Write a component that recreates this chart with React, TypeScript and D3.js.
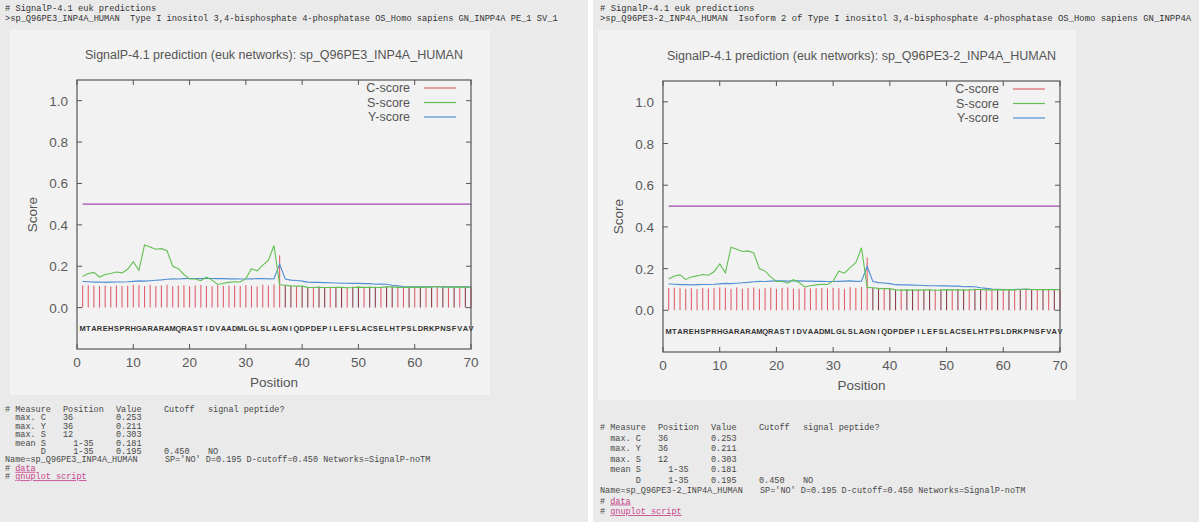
import React from 'react';
import * as d3 from 'd3';

// residues 1..70 (shared by both isoforms)
const sequence = 'MTAREHSPRHGARARAMQRASTIDVAADMLGLSLAGNIQDPDEPILEFSLACSELHTPSLDRKPNSFVAV'.split('');

const cScore = [
  0.107, 0.108, 0.106, 0.104, 0.106, 0.102, 0.107, 0.105, 0.106, 0.110,
  0.108, 0.104, 0.110, 0.104, 0.107, 0.110, 0.103, 0.106, 0.108, 0.103,
  0.107, 0.109, 0.105, 0.103, 0.108, 0.105, 0.106, 0.107, 0.105, 0.108,
  0.106, 0.103, 0.111, 0.107, 0.112, 0.253, 0.108, 0.105, 0.103, 0.104,
  0.100, 0.101, 0.102, 0.100, 0.101, 0.099, 0.100, 0.100, 0.101, 0.102,
  0.100, 0.102, 0.101, 0.100, 0.103, 0.100, 0.099, 0.098, 0.099, 0.098,
  0.099, 0.098, 0.099, 0.100, 0.099, 0.098, 0.099, 0.098, 0.099, 0.098,
];

const sScore = [
  0.150, 0.165, 0.170, 0.148, 0.160, 0.165, 0.172, 0.168, 0.185, 0.222,
  0.180, 0.303, 0.293, 0.282, 0.285, 0.275, 0.200, 0.188, 0.160, 0.138,
  0.138, 0.130, 0.147, 0.133, 0.112, 0.118, 0.122, 0.125, 0.124, 0.140,
  0.188, 0.178, 0.205, 0.228, 0.300, 0.110, 0.108, 0.105, 0.104, 0.104,
  0.098, 0.097, 0.098, 0.097, 0.097, 0.098, 0.098, 0.096, 0.097, 0.099,
  0.098, 0.098, 0.097, 0.098, 0.100, 0.100, 0.098, 0.098, 0.099, 0.098,
  0.099, 0.098, 0.100, 0.102, 0.100, 0.099, 0.099, 0.100, 0.099, 0.099,
];

const yScore = [
  0.126, 0.125, 0.123, 0.124, 0.122, 0.123, 0.124, 0.124, 0.125, 0.127,
  0.129, 0.128, 0.130, 0.132, 0.134, 0.137, 0.139, 0.138, 0.140, 0.141,
  0.141, 0.140, 0.142, 0.141, 0.140, 0.140, 0.139, 0.139, 0.138, 0.138,
  0.139, 0.140, 0.141, 0.139, 0.140, 0.211, 0.138, 0.133, 0.131, 0.128,
  0.123, 0.122, 0.122, 0.121, 0.120, 0.119, 0.118, 0.118, 0.117, 0.117,
  0.116, 0.116, 0.113, 0.114, 0.113, 0.108, 0.105, 0.102, 0.101, 0.100,
  0.100, 0.100, 0.101, 0.101, 0.100, 0.100, 0.100, 0.100, 0.100, 0.100,
];

const cutoffLine = 0.5;
const xTicks = [0, 10, 20, 30, 40, 50, 60, 70];
const yTicks = [0, 0.2, 0.4, 0.6, 0.8, 1.0];
const legendItems = [
  { label: 'C-score', color: '#e0616e' },
  { label: 'S-score', color: '#62c052' },
  { label: 'Y-score', color: '#4f8fd3' },
];

const headerLine1 = '# SignalP-4.1 euk predictions';
const leftHeader = '>sp_Q96PE3_INP4A_HUMAN  Type I inositol 3,4-bisphosphate 4-phosphatase OS_Homo sapiens GN_INPP4A PE_1 SV_1';
const rightHeader = '>sp_Q96PE3-2_INP4A_HUMAN  Isoform 2 of Type I inositol 3,4-bisphosphate 4-phosphatase OS_Homo sapiens GN_INPP4A';
const leftTitle = 'SignalP-4.1 prediction (euk networks): sp_Q96PE3_INP4A_HUMAN';
const rightTitle = 'SignalP-4.1 prediction (euk networks): sp_Q96PE3-2_INP4A_HUMAN';

// summary table rows: [measure, position, value, cutoff, answer]
const tableHead = ['# Measure', 'Position', 'Value', 'Cutoff', 'signal peptide?'];
const tableRows = [
  ['  max. C', '36', '0.253', '', ''],
  ['  max. Y', '36', '0.211', '', ''],
  ['  max. S', '12', '0.303', '', ''],
  ['  mean S', '  1-35', '0.181', '', ''],
  ['       D', '  1-35', '0.195', '0.450', 'NO'],
];
const summaryTail = "SP='NO' D=0.195 D-cutoff=0.450 Networks=SignalP-noTM";

const mono = '"Liberation Mono", "DejaVu Sans Mono", monospace';
const sans = '"Liberation Sans", Arial, sans-serif';
const keep = (s: string) => s.replace(/ /g, '\u00a0');

type PanelProps = {
  left: number; right: number; top: number; bottom: number;
  title: string; header: string; headerSize: number; ox: number;
  boxX: number; boxY: number; boxW: number; boxH: number;
  tableY: number; lineH: number; name: string;
};

const Panel = (p: PanelProps) => {
  const x = d3.scaleLinear().domain([0, 70]).range([p.left, p.right]);
  const y = d3.scaleLinear().domain([-0.2, 1.1]).range([p.bottom, p.top]);
  const line = (vals: number[]) =>
    d3.line<number>().x((_, i) => x(i + 1)).y((d) => y(d))(vals) || '';
  const cols = [0, 58, 111, 159, 203];
  const cx = (i: number) => p.ox + cols[i];
  return (
    <g>
      <text x={p.ox} y={10.5} fontFamily={mono} fontSize={p.headerSize} fill="#333">{keep(headerLine1)}</text>
      <text x={p.ox} y={20.5} fontFamily={mono} fontSize={p.headerSize} fill="#333">{keep(p.header)}</text>
      <rect x={p.boxX} y={p.boxY} width={p.boxW} height={p.boxH} fill="#f2f2f2" />
      <text x={(p.left + p.right) / 2} y={p.top - 21} textAnchor="middle" fontFamily={sans} fontSize={12.5} fill="#555">{p.title}</text>
      {/* cutoff line */}
      <line x1={x(1)} x2={x(70)} y1={y(cutoffLine)} y2={y(cutoffLine)} stroke="#a24ab8" strokeWidth={1.1} />
      {/* C-score impulses */}
      {cScore.map((v, i) => {
        const pos = i + 1;
        const dark = (pos > 36 && pos < 58 && pos % 3 !== 0) || (pos >= 58 && pos % 2 === 1);
        return (
          <line key={i} x1={x(pos)} x2={x(pos)} y1={y(0)} y2={y(v)}
            stroke={dark ? '#8a3f4a' : '#e0616e'} strokeWidth={1.1} />
        );
      })}
      <path d={line(yScore)} fill="none" stroke={legendItems[2].color} strokeWidth={1.1} />
      <path d={line(sScore)} fill="none" stroke={legendItems[1].color} strokeWidth={1.1} />
      {/* sequence */}
      {sequence.map((aa, i) => (
        <text key={i} x={x(i + 1)} y={y(-0.1) + 3} textAnchor="middle" fontFamily={sans}
          fontSize={7.5} fontWeight="bold" fill="#333">{aa}</text>
      ))}
      {/* frame */}
      <rect x={p.left} y={p.top} width={p.right - p.left} height={p.bottom - p.top} fill="none" stroke="#555" strokeWidth={1.2} />
      {xTicks.map((t) => (
        <g key={t}>
          <line x1={x(t)} x2={x(t)} y1={p.bottom} y2={p.bottom - 5} stroke="#555" />
          <line x1={x(t)} x2={x(t)} y1={p.top} y2={p.top + 5} stroke="#555" />
          <text x={x(t)} y={p.bottom + 18} textAnchor="middle" fontFamily={sans} fontSize={13.5} fill="#5a5a5a">{t}</text>
        </g>
      ))}
      {yTicks.map((t) => (
        <g key={t}>
          <line x1={p.left} x2={p.left + 5} y1={y(t)} y2={y(t)} stroke="#555" />
          <line x1={p.right} x2={p.right - 5} y1={y(t)} y2={y(t)} stroke="#555" />
          <text x={p.left - 9} y={y(t) + 5} textAnchor="end" fontFamily={sans} fontSize={13.5} fill="#5a5a5a">{d3.format('.1f')(t)}</text>
        </g>
      ))}
      <text x={(p.left + p.right) / 2} y={p.bottom + 38} textAnchor="middle" fontFamily={sans} fontSize={13.5} fill="#555">Position</text>
      <text transform={`translate(${p.left - 40},${y(0.45)}) rotate(-90)`} textAnchor="middle" fontFamily={sans} fontSize={13.5} fill="#555">Score</text>
      {/* legend */}
      {legendItems.map((l, i) => (
        <g key={l.label}>
          <text x={p.right - 61} y={p.top + 12 + i * 14.5} textAnchor="end" fontFamily={sans} fontSize={12.5} fill="#555">{l.label}</text>
          <line x1={p.right - 47} x2={p.right - 15} y1={p.top + 8 + i * 14.5} y2={p.top + 8 + i * 14.5} stroke={l.color} strokeWidth={1.2} />
        </g>
      ))}
      {/* summary */}
      <g fontFamily={mono} fontSize={8.5} fill="#484848">
        {tableHead.map((h, i) => (
          <text key={h} x={cx(i)} y={p.tableY}>{keep(h)}</text>
        ))}
        {tableRows.map((r, j) => (
          <g key={j}>
            {r.map((c, i) => (
              <text key={i} x={cx(i)} y={p.tableY + (j + 1) * p.lineH}>{keep(c)}</text>
            ))}
          </g>
        ))}
        <text x={p.ox} y={p.tableY + 6 * p.lineH}>{p.name}</text>
        <text x={p.ox + 160} y={p.tableY + 6 * p.lineH}>{summaryTail}</text>
        <text x={p.ox} y={p.tableY + 7 * p.lineH}>{keep('# ')}<tspan fill="#c8448e" textDecoration="underline">data</tspan></text>
        <text x={p.ox} y={p.tableY + 8 * p.lineH}>{keep('# ')}<tspan fill="#c8448e" textDecoration="underline">{keep('gnuplot script')}</tspan></text>
      </g>
    </g>
  );
};

export default function App() {
  return (
    <svg width={1199} height={522} style={{ position: 'absolute', left: 0, top: 0 }}>
      <rect x={0} y={0} width={1199} height={522} fill="#eaeaea" />
      <rect x={588} y={0} width={5} height={522} fill="#ffffff" />
      <Panel left={77} right={471} top={80} bottom={349} ox={5} headerSize={8.7}
        title={leftTitle} header={leftHeader}
        boxX={10} boxY={30} boxW={480} boxH={365}
        tableY={412} lineH={8.4} name="Name=sp_Q96PE3_INP4A_HUMAN" />
      <Panel left={663} right={1060} top={81} bottom={352} ox={600} headerSize={8.9}
        title={rightTitle} header={rightHeader}
        boxX={598} boxY={30} boxW={478} boxH={370}
        tableY={430} lineH={10.5} name="Name=sp_Q96PE3-2_INP4A_HUMAN" />
    </svg>
  );
}
